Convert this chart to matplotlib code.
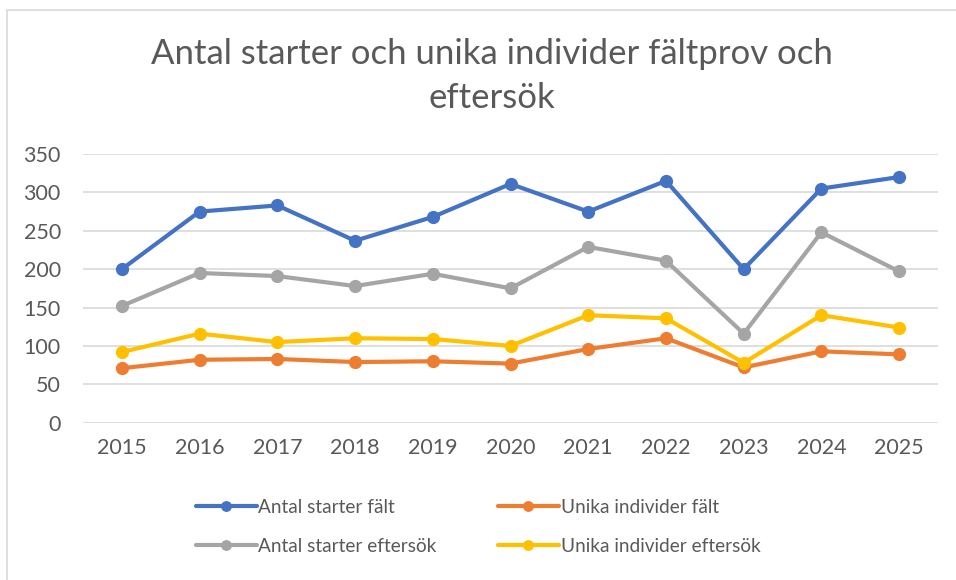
import matplotlib.pyplot as plt
from matplotlib.patches import Rectangle

years = ['2015', '2016', '2017', '2018', '2019', '2020', '2021', '2022', '2023', '2024', '2025']
starter_falt = [200, 275, 283, 237, 268, 311, 275, 315, 200, 305, 320]
unika_falt = [71, 82, 83, 79, 80, 77, 96, 110, 72, 93, 89]
starter_eftersok = [152, 195, 191, 178, 194, 175, 229, 211, 116, 248, 197]
unika_eftersok = [92, 116, 105, 110, 109, 100, 140, 136, 78, 140, 124]

title = 'Antal starter och unika individer fältprov och\neftersök'
labels = ['Antal starter fält', 'Unika individer fält',
          'Antal starter eftersök', 'Unika individer eftersök']
colors = ['#4472C4', '#ED7D31', '#A5A5A5', '#FFC000']

plt.rcParams['font.family'] = ['Lato', 'DejaVu Sans']
txt = '#595959'

fig = plt.figure(figsize=(9.56, 5.8), dpi=100)
# chart frame, cut by the screenshot on the right and bottom
fig.patches.append(Rectangle((7 / 956, -0.1), 1.2, 1 - 10 / 580 + 0.1,
                             transform=fig.transFigure, fill=False,
                             edgecolor='#d9d9d9', linewidth=1.2))

ax = fig.add_axes([83 / 956, 1 - 422.7 / 580, (938 - 83) / 956, (422.7 - 154) / 580])

x = range(len(years))
series = [starter_falt, unika_falt, starter_eftersok, unika_eftersok]
lines = []
for vals, c, lab in zip(series, colors, labels):
    ln, = ax.plot(x, vals, color=c, lw=3, marker='o', ms=8.5, label=lab,
                  solid_capstyle='round', zorder=3)
    lines.append(ln)

ax.set_xlim(-0.5, len(years) - 0.5)
ax.set_ylim(0, 350)
ax.set_yticks(range(0, 351, 50))
ax.set_xticks(list(x))
ax.set_xticklabels(years)
ax.grid(axis='y', color='#d9d9d9', lw=1.2)
ax.set_axisbelow(True)
for s in ax.spines.values():
    s.set_visible(False)
ax.tick_params(length=0, colors=txt, labelsize=15.5)
ax.tick_params(axis='y', pad=16)
ax.tick_params(axis='x', pad=11)

fig.text(492 / 956, 1 - 76 / 580, title, ha='center', va='center',
         fontsize=25, color=txt, linespacing=1.45)

order = [0, 2, 1, 3]
fig.legend([lines[i] for i in order], [labels[i] for i in order],
           loc='center', bbox_to_anchor=(478 / 956, 1 - 527 / 580), ncol=2,
           frameon=False, fontsize=13.7, labelcolor=txt, handlelength=3.2,
           handletextpad=0.1, columnspacing=3.2, labelspacing=1.15,
           markerscale=0.8)

fig.savefig('out.png', dpi=100)
